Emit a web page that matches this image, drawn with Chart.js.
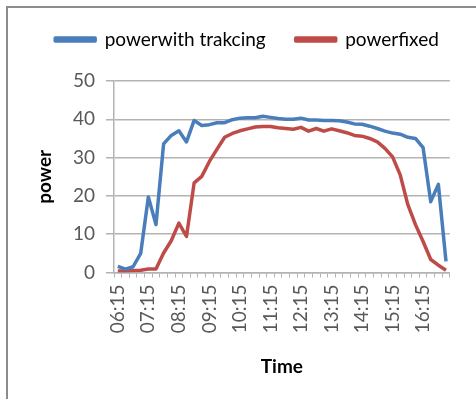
<!DOCTYPE html>
<html>
<head>
<meta charset="utf-8">
<script src="https://cdn.jsdelivr.net/npm/chart.js@4"></script>
<style>
  html, body { margin: 0; padding: 0; background: #fff; overflow: hidden; }
  #wrap { position: relative; width: 476px; height: 399px; }
  #frame {
    position: absolute; left: 6px; top: 6px; width: 480px; height: 400px;
    border-left: 2px solid #8c8c8c; border-top: 2px solid #8c8c8c;
    pointer-events: none;
  }
  canvas { position: absolute; left: 0; top: 0; }
</style>
</head>
<body>
<div id="wrap">
  <canvas id="chart" width="476" height="399"></canvas>
  <div id="frame"></div>
</div>
<script>
/* Solar power: tracking vs fixed panel, 15-minute readings */

const times = [
  '06:15', '06:30', '06:45', '07:00', '07:15', '07:30', '07:45', '08:00',
  '08:15', '08:30', '08:45', '09:00', '09:15', '09:30', '09:45', '10:00',
  '10:15', '10:30', '10:45', '11:00', '11:15', '11:30', '11:45', '12:00',
  '12:15', '12:30', '12:45', '13:00', '13:15', '13:30', '13:45', '14:00',
  '14:15', '14:30', '14:45', '15:00', '15:15', '15:30', '15:45', '16:00',
  '16:15', '16:30', '16:45', '17:00',
];

const powerTracking = [
  1.6, 0.9, 1.5, 5.0, 19.7, 12.5, 33.6, 35.8,
  37.0, 34.1, 39.7, 38.4, 38.6, 39.1, 39.1, 39.9,
  40.3, 40.4, 40.4, 40.8, 40.5, 40.2, 40.0, 40.0,
  40.3, 39.8, 39.8, 39.7, 39.7, 39.6, 39.3, 38.8,
  38.7, 38.2, 37.6, 36.9, 36.4, 36.1, 35.3, 35.0,
  32.6, 18.5, 23.0, 2.9,
];

const powerFixed = [
  0.4, 0.4, 0.5, 0.6, 0.9, 0.9, 5.1, 8.3,
  12.9, 9.4, 23.4, 25.1, 29.0, 32.2, 35.3, 36.3,
  37.0, 37.5, 38.0, 38.1, 38.1, 37.8, 37.6, 37.4,
  37.9, 36.9, 37.6, 36.9, 37.5, 37.0, 36.5, 35.8,
  35.6, 35.0, 34.1, 32.4, 30.2, 25.5, 17.7, 12.5,
  8.1, 3.4, 1.9, 0.6,
];

const yTicks = [0, 10, 20, 30, 40, 50];

const FONT = 'Lato, "Open Sans", sans-serif';
const GRID = '#b3b3b3';
const TEXT = '#595959';

// Excel leaves a big gap under the legend and centres it a little right
// of the canvas middle; mimic both.
const legendTweak = {
  id: 'legendTweak',
  beforeInit(chart) {
    const fit = chart.legend.fit;
    chart.legend.fit = function () {
      fit.call(this);
      this.height += 22;
    };
  },
  afterLayout(chart) {
    chart.legend.left += 18;
    chart.legend.right += 18;
  },
};

new Chart(document.getElementById('chart'), {
  type: 'line',
  data: {
    labels: times,
    datasets: [
      {
        label: 'powerwith trakcing',
        data: powerTracking,
        borderColor: '#4a7ebb',
        backgroundColor: '#4a7ebb',
        borderWidth: 3.5,
        pointRadius: 0,
        tension: 0,
        borderJoinStyle: 'round',
      },
      {
        label: 'powerfixed',
        data: powerFixed,
        borderColor: '#be4b48',
        backgroundColor: '#be4b48',
        borderWidth: 3.5,
        pointRadius: 0,
        tension: 0,
        borderJoinStyle: 'round',
      },
    ],
  },
  plugins: [legendTweak],
  options: {
    responsive: false,
    animation: false,
    devicePixelRatio: 1,
    layout: { padding: { left: 0, right: 18, top: 0, bottom: 0 } },
    plugins: {
      tooltip: { enabled: false },
      legend: {
        position: 'top',
        labels: {
          boxWidth: 40,
          boxHeight: 3,
          padding: 30,
          color: '#000',
          font: { family: FONT, size: 19 },
        },
      },
    },
    scales: {
      x: {
        offset: true,
        afterFit: (s) => { s.height = 126.5; },
        grid: {
          offset: true,
          drawOnChartArea: false,
          tickLength: 5,
          color: GRID,
        },
        border: { color: GRID, width: 1.5 },
        ticks: {
          autoSkip: false,
          maxRotation: 90,
          minRotation: 90,
          padding: 7,
          color: TEXT,
          font: { family: FONT, size: 19 },
          callback: (v, i) => (i % 4 === 0 ? times[i] : ''),
        },
        title: {
          display: true,
          text: 'Time',
          color: '#000',
          font: { family: FONT, size: 19, weight: 'bold' },
          padding: { top: 0, bottom: 21 },
        },
      },
      y: {
        min: 0,
        max: 50,
        afterFit: (s) => { s.width = 114; },
        afterBuildTicks: (s) => { s.ticks = yTicks.map((v) => ({ value: v })); },
        grid: { color: GRID, lineWidth: 1.5, tickLength: 8 },
        border: { color: GRID, width: 1.5 },
        ticks: {
          padding: 11,
          color: TEXT,
          font: { family: FONT, size: 19 },
        },
        title: {
          display: true,
          text: 'power',
          color: '#000',
          font: { family: FONT, size: 19, weight: 'bold' },
          padding: { top: 33, bottom: 0 },
        },
      },
    },
  },
});
</script>
</body>
</html>
